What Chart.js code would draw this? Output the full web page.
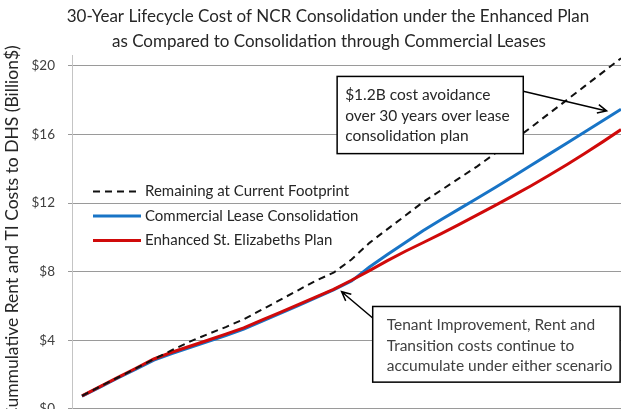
<!DOCTYPE html>
<html>
<head>
<meta charset="utf-8">
<script src="https://cdn.jsdelivr.net/npm/chart.js@4.4.0/dist/chart.umd.min.js"></script>
<style>
html, body { margin: 0; padding: 0; background: #fff; overflow: hidden; }
#wrap { position: relative; width: 621px; height: 430px; }
</style>
</head>
<body>
<div id="wrap"><canvas id="grafico"></canvas></div>
<script>
// years of the lifecycle (x axis is cut off in the picture)
const years = [0,1,2,3,4,5,6,7,8,9,10,11,12,13,14,15,16,17,18,19,20,21,22,23,24,25,26,27,28,29,30]

// cumulative cost, billion $
const currentFootprint = [0.76,1.30,1.83,2.36,2.90,3.42,3.92,4.36,4.77,5.22,5.78,6.34,6.90,7.47,7.94,8.71,9.68,10.48,11.27,12.07,12.76,13.45,14.14,14.90,15.64,16.42,17.22,18.02,18.83,19.63,20.44]
const commercialLease = [0.74,1.27,1.80,2.31,2.84,3.22,3.57,3.92,4.28,4.65,5.10,5.55,6.01,6.47,6.94,7.45,8.27,9.00,9.70,10.40,11.04,11.66,12.28,12.91,13.55,14.20,14.85,15.50,16.15,16.81,17.47]
const enhancedPlan = [0.76,1.30,1.84,2.37,2.91,3.30,3.65,4.00,4.36,4.72,5.17,5.61,6.06,6.51,6.97,7.50,8.06,8.64,9.19,9.70,10.22,10.76,11.31,11.86,12.43,13.01,13.62,14.25,14.90,15.58,16.28]

const seriesNames = ['Remaining at Current Footprint', 'Commercial Lease Consolidation', 'Enhanced St. Elizabeths Plan']
const yTicks = [0,4,8,12,16,20]

const titleLines = ['30-Year Lifecycle Cost of NCR Consolidation under the Enhanced Plan', 'as Compared to Consolidation through Commercial Leases']
const yTitle = 'Cummulative Rent and TI Costs to DHS (Billion$)'
const noteTop = ['$1.2B cost avoidance', 'over 30 years over lease', 'consolidation plan']
const noteBottom = ['Tenant Improvement, Rent and', 'Transition costs continue to', 'accumulate under either scenario']

const FONT = 'Lato, "Open Sans", sans-serif'

function points(vals) {
    return years.map((yr, i) => ({ x: yr, y: vals[i] }))
}

// title drawn over the whole canvas
const titolo = {
    id: 'titolo',
    afterDraw(chart) {
        const ctx = chart.ctx
        ctx.save()
        ctx.fillStyle = '#262626'
        ctx.font = '17px ' + FONT
        ctx.textAlign = 'center'
        ctx.textBaseline = 'middle'
        ctx.fillText(titleLines[0], 328, 17)
        ctx.fillText(titleLines[1], 329, 42)
        ctx.restore()
    }
}

// legend sits inside the plot, left side
const legenda = {
    id: 'legenda',
    afterDatasetsDraw(chart) {
        const ctx = chart.ctx
        const left = chart.chartArea.left
        const top = chart.chartArea.top
        ctx.save()
        ctx.font = '15px ' + FONT
        ctx.textBaseline = 'middle'
        chart.data.datasets.forEach((ds, i) => {
            const yy = top + 136 + i * 24.5
            ctx.strokeStyle = ds.borderColor
            ctx.lineWidth = ds.borderWidth
            ctx.setLineDash(ds.borderDash || [])
            ctx.beginPath()
            ctx.moveTo(left + 21, yy)
            ctx.lineTo(left + 69, yy)
            ctx.stroke()
            ctx.setLineDash([])
            ctx.fillStyle = '#262626'
            ctx.fillText(ds.label, left + 73, yy)
        })
        ctx.restore()
    }
}

function arrow(ctx, x0, y0, x1, y1) {
    const a = Math.atan2(y1 - y0, x1 - x0)
    const l = 10
    ctx.beginPath()
    ctx.moveTo(x0, y0)
    ctx.lineTo(x1, y1)
    ctx.moveTo(x1 - l * Math.cos(a - 0.45), y1 - l * Math.sin(a - 0.45))
    ctx.lineTo(x1, y1)
    ctx.lineTo(x1 - l * Math.cos(a + 0.45), y1 - l * Math.sin(a + 0.45))
    ctx.stroke()
}

function box(ctx, x, y, x0, y0, x1, y1, lines, color, pad) {
    const L = x.getPixelForValue(x0), T = y.getPixelForValue(y0)
    const R = x.getPixelForValue(x1), B = y.getPixelForValue(y1)
    ctx.fillStyle = '#fff'
    ctx.fillRect(L, T, R - L, B - T)
    ctx.strokeStyle = '#000'
    ctx.lineWidth = 1.5
    ctx.strokeRect(L, T, R - L, B - T)
    ctx.fillStyle = color
    ctx.font = '15.5px ' + FONT
    ctx.textBaseline = 'middle'
    ctx.textAlign = 'left'
    lines.forEach((t, i) => ctx.fillText(t, L + pad, T + 19 + i * 20.5))
}

// call-out boxes, placed in data units
const note = {
    id: 'note',
    afterDatasetsDraw(chart) {
        const { ctx, scales: { x, y } } = chart
        ctx.save()
        box(ctx, x, y, 14.2, 19.38, 24.56, 14.88, noteTop, '#262626', 8)
        box(ctx, x, y, 16.18, 5.97, 29.95, 1.56, noteBottom, '#404040', 14)
        ctx.strokeStyle = '#000'
        ctx.lineWidth = 1.5
        arrow(ctx, x.getPixelForValue(24.56), y.getPixelForValue(18.52), x.getPixelForValue(29.2), y.getPixelForValue(17.37))
        arrow(ctx, x.getPixelForValue(16.18), y.getPixelForValue(5.3), x.getPixelForValue(14.45), y.getPixelForValue(6.83))
        ctx.restore()
    }
}

window.onload = () => {
    const canvas = document.getElementById('grafico').getContext('2d')

    new Chart(canvas, {
        type: 'line',
        data: {
            datasets: [
                { label: seriesNames[0], data: points(currentFootprint), borderColor: '#111', borderWidth: 2, borderDash: [7, 5], order: 0 },
                { label: seriesNames[1], data: points(commercialLease), borderColor: '#1874c6', borderWidth: 3, order: 2 },
                { label: seriesNames[2], data: points(enhancedPlan), borderColor: '#d00a0a', borderWidth: 3, order: 1 }
            ]
        },
        options: {
            responsive: true,
            maintainAspectRatio: false,
            animation: false,
            events: [],
            layout: { padding: { top: 55.5, right: 0, bottom: 16, left: 0 } },
            elements: { point: { radius: 0 }, line: { tension: 0 } },
            plugins: { legend: { display: false }, tooltip: { enabled: false }, title: { display: false } },
            scales: {
                x: { type: 'linear', min: -0.557, max: 30, display: false },
                y: {
                    min: 0,
                    max: 20.6,
                    afterBuildTicks: s => { s.ticks = yTicks.map(v => ({ value: v })) },
                    afterFit: s => { s.width = 72 },
                    grid: { color: '#9a9a9a', tickLength: 4, tickColor: '#9a9a9a' },
                    border: { color: '#c4c4c4' },
                    ticks: { padding: 13, color: '#404040', font: { family: FONT, size: 13.5 }, callback: v => '$' + v },
                    title: { display: true, text: yTitle, color: '#262626', font: { family: FONT, size: 17.5 }, padding: { top: 2, bottom: 0 } }
                }
            }
        },
        plugins: [titolo, legenda, note]
    })
}
</script>
</body>
</html>
